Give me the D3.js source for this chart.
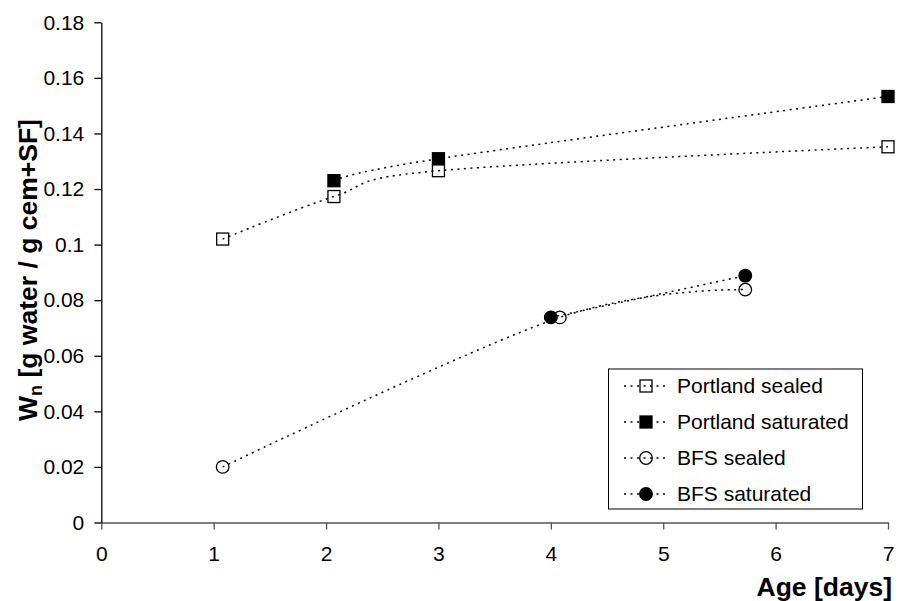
<!DOCTYPE html>
<html lang="en">
<head>
    <meta charset="UTF-8">
    <title>Wn vs age</title>
    <script src="https://d3js.org/d3.v7.min.js"></script>
    <style>
        body { margin: 0; background: #fff; }
        text { font-family: Arial, "Liberation Sans", sans-serif; fill: #000; }
    </style>
</head>
<body>
<script>
// data
const portlandSealedAge = [1.08, 2.07, 3.0, 7.0];
const portlandSealedWn  = [0.102, 0.1173, 0.1266, 0.1352];
const portlandSatAge    = [2.07, 3.0, 7.0];
const portlandSatWn     = [0.1230, 0.1309, 0.1533];
const bfsSealedAge      = [1.08, 4.08, 5.73];
const bfsSealedWn       = [0.0200, 0.0738, 0.0838];
const bfsSatAge         = [4.0, 5.73];
const bfsSatWn          = [0.0738, 0.0888];

const seriesNames = ["Portland sealed", "Portland saturated", "BFS sealed", "BFS saturated"];
const xTicks = [0, 1, 2, 3, 4, 5, 6, 7];
const yTicks = [0, 0.02, 0.04, 0.06, 0.08, 0.1, 0.12, 0.14, 0.16, 0.18];
const yTickLabels = ["0", "0.02", "0.04", "0.06", "0.08", "0.1", "0.12", "0.14", "0.16", "0.18"];

const series = [
    {name: seriesNames[0], x: portlandSealedAge, y: portlandSealedWn, shape: "square", filled: false},
    {name: seriesNames[1], x: portlandSatAge, y: portlandSatWn, shape: "square", filled: true},
    {name: seriesNames[2], x: bfsSealedAge, y: bfsSealedWn, shape: "circle", filled: false},
    {name: seriesNames[3], x: bfsSatAge, y: bfsSatWn, shape: "circle", filled: true}
];

const W = 902, H = 601;
const svg = d3.select("body").append("svg")
    .attr("width", W)
    .attr("height", H);

const x = d3.scaleLinear().domain([0, 7]).range([101.3, 888]);
const y = d3.scaleLinear().domain([0, 0.18]).range([522.5, 22.3]);

// x axis
const xAxis = svg.append("g")
    .attr("transform", `translate(0,${y(0)})`)
    .call(d3.axisBottom(x).tickValues(xTicks).tickSize(7).tickSizeOuter(0).tickPadding(17).tickFormat(d3.format("d")));
xAxis.select(".domain").attr("stroke", "#555").attr("stroke-width", 1.3);
xAxis.selectAll(".tick line").attr("stroke", "#555").attr("stroke-width", 1.3);
xAxis.selectAll("text").attr("font-size", 21).attr("font-family", null);

// y axis
const yAxis = svg.append("g")
    .attr("transform", `translate(${x(0)},0)`)
    .call(d3.axisLeft(y).tickValues(yTicks).tickSize(7).tickSizeOuter(0).tickPadding(10)
        .tickFormat((d, i) => yTickLabels[i]));
yAxis.select(".domain").attr("stroke", "#000").attr("stroke-width", 1.3);
yAxis.selectAll(".tick line").attr("stroke", "#000").attr("stroke-width", 1.3);
yAxis.selectAll("text").attr("font-size", 21).attr("font-family", null);

// lines
const line = d3.line()
    .x(d => x(d[0]))
    .y(d => y(d[1]))
    .curve(d3.curveCardinal.tension(0));

svg.selectAll(".series")
    .data(series)
    .enter().append("path")
    .attr("class", "series")
    .attr("d", s => line(s.x.map((v, i) => [v, s.y[i]])))
    .attr("fill", "none")
    .attr("stroke", "#000")
    .attr("stroke-width", 1.5)
    .attr("stroke-dasharray", "2 4.5");

function drawMarker(g, s, cx, cy) {
    if (s.shape === "square") {
        g.append("rect")
            .attr("x", cx - 6).attr("y", cy - 6)
            .attr("width", 12).attr("height", 12)
            .attr("fill", s.filled ? "#000" : "none")
            .attr("stroke", "#000").attr("stroke-width", 1.3);
    } else {
        g.append("circle")
            .attr("cx", cx).attr("cy", cy).attr("r", 6.3)
            .attr("fill", s.filled ? "#000" : "none")
            .attr("stroke", "#000").attr("stroke-width", 1.3);
    }
}

// markers
series.forEach(s => {
    const g = svg.append("g");
    s.x.forEach((v, i) => drawMarker(g, s, x(v), y(s.y[i])));
});

// legend
const legend = svg.append("g");
legend.append("rect")
    .attr("x", 608.5).attr("y", 369)
    .attr("width", 254).attr("height", 140)
    .attr("fill", "#fff")
    .attr("stroke", "#000").attr("stroke-width", 1);

series.forEach((s, i) => {
    const ly = 386 + i * 36;
    legend.append("line")
        .attr("x1", 624).attr("x2", 669)
        .attr("y1", ly).attr("y2", ly)
        .attr("stroke", "#000").attr("stroke-width", 1.5)
        .attr("stroke-dasharray", "2 4.5");
    drawMarker(legend, s, 646, ly);
    legend.append("text")
        .attr("x", 677).attr("y", ly)
        .attr("dy", "0.35em")
        .attr("font-size", 21)
        .text(s.name);
});

// axis titles
svg.append("text")
    .attr("x", 892).attr("y", 596)
    .attr("text-anchor", "end")
    .attr("font-size", 26.5)
    .attr("font-weight", "bold")
    .text("Age [days]");

const yt = svg.append("text")
    .attr("transform", "translate(37,270) rotate(-90)")
    .attr("text-anchor", "middle")
    .attr("font-size", 26.5)
    .attr("font-weight", "bold");
yt.append("tspan").text("W");
yt.append("tspan").attr("font-size", 18).attr("dy", 5).text("n");
yt.append("tspan").attr("dy", -5).text(" [g water / g cem+SF]");
</script>
</body>
</html>
